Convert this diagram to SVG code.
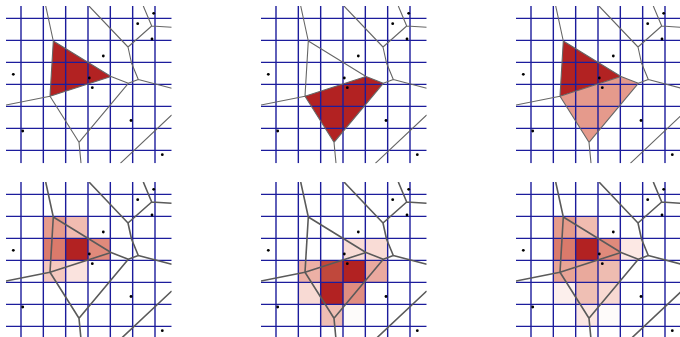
<svg xmlns="http://www.w3.org/2000/svg" xmlns:xlink="http://www.w3.org/1999/xlink" width="680" height="337" viewBox="0 0 680 337">
<style>
.grid line{stroke:#1c1c9c;stroke-width:1.4}
.vor{fill:none;stroke-linejoin:round}
.pt{fill:#000}
.red{fill:#b22222}
.top{stroke:#666;stroke-width:1.1}
.bot{stroke:#5a5a5a;stroke-width:1.6}
</style>
<defs>
<clipPath id="clip"><rect x="6" y="6" width="165.7" height="157.3"/></clipPath>
<g id="grid" class="grid">
<line x1="21" y1="6" x2="21" y2="163.3"/>
<line x1="43.33" y1="6" x2="43.33" y2="163.3"/>
<line x1="65.67" y1="6" x2="65.67" y2="163.3"/>
<line x1="88" y1="6" x2="88" y2="163.3"/>
<line x1="110.33" y1="6" x2="110.33" y2="163.3"/>
<line x1="132.67" y1="6" x2="132.67" y2="163.3"/>
<line x1="155" y1="6" x2="155" y2="163.3"/>
<line x1="6" y1="18.33" x2="171.7" y2="18.33"/>
<line x1="6" y1="40.33" x2="171.7" y2="40.33"/>
<line x1="6" y1="62.33" x2="171.7" y2="62.33"/>
<line x1="6" y1="84.33" x2="171.7" y2="84.33"/>
<line x1="6" y1="106.33" x2="171.7" y2="106.33"/>
<line x1="6" y1="128.33" x2="171.7" y2="128.33"/>
<line x1="6" y1="150.33" x2="171.7" y2="150.33"/>
</g>
<path id="vor" class="vor" d="M45.7,6 L53.3,41 L50,96.3 L6,105 M53.3,41 L111,76.5 L50,96.3 M111,76.5 L128.3,83.3 L138.3,79.5 L171.7,88.3 M138.3,79.5 L131.5,63 L128,47 L89,6 M128,47 L151.7,26 L143.3,6 M151.7,26 L171.7,27.3 M50,96.3 L79,142.3 L81,163.3 M79,142.3 L128.3,83.3 M120.3,163.3 L171.7,115"/>
<g id="pts" class="pt">
<circle cx="13.3" cy="74.3" r="1.4"/>
<circle cx="22.7" cy="131" r="1.4"/>
<circle cx="103.3" cy="56" r="1.4"/>
<circle cx="89.3" cy="78" r="1.4"/>
<circle cx="92.3" cy="87.7" r="1.4"/>
<circle cx="137.7" cy="23.7" r="1.4"/>
<circle cx="153.7" cy="13.3" r="1.4"/>
<circle cx="152" cy="39" r="1.4"/>
<circle cx="131" cy="120.5" r="1.4"/>
<circle cx="162.3" cy="154.7" r="1.4"/>
</g>
<g id="overlayTop">
<use xlink:href="#grid"/>
<use xlink:href="#vor" class="top"/>
<use xlink:href="#pts"/>
</g>
<g id="overlayBot">
<use xlink:href="#grid"/>
<use xlink:href="#vor" class="bot"/>
<use xlink:href="#pts"/>
</g>
</defs>

<g id="panel1" clip-path="url(#clip)">
<polygon class="red" points="53.3,41 111,76.5 50,96.3"/>
<use xlink:href="#overlayTop"/>
</g>

<g id="panel2" transform="translate(255,0)">
<g clip-path="url(#clip)">
<polygon class="red" points="50,96.3 111,76.5 128.3,83.3 79,142.3"/>
<use xlink:href="#overlayTop"/>
</g>
</g>

<g id="panel3" transform="translate(510,0)">
<g clip-path="url(#clip)">
<polygon class="red" points="53.3,41 111,76.5 50,96.3"/>
<polygon fill="#e59a8c" points="50,96.3 111,76.5 128.3,83.3 79,142.3"/>
<use xlink:href="#overlayTop"/>
</g>
</g>

<g id="panel4" transform="translate(0,176)">
<g clip-path="url(#clip)">
<rect x="43.33" y="40.33" width="22.34" height="22" fill="#e69b8c"/>
<rect x="65.67" y="40.33" width="22.33" height="22" fill="#f1bcb1"/>
<rect x="43.33" y="62.33" width="22.34" height="22" fill="#db7a6b"/>
<rect x="65.67" y="62.33" width="22.33" height="22" fill="#b22222"/>
<rect x="88" y="62.33" width="22.33" height="22" fill="#e08a7b"/>
<rect x="43.33" y="84.33" width="22.34" height="22" fill="#f4c8bf"/>
<rect x="65.67" y="84.33" width="22.33" height="22" fill="#fae3de"/>
<use xlink:href="#overlayBot"/>
</g>
</g>

<g id="panel5" transform="translate(255,176)">
<g clip-path="url(#clip)">
<rect x="88" y="62.33" width="22.33" height="22" fill="#f9dcd6"/>
<rect x="110.33" y="62.33" width="22.34" height="22" fill="#f9dcd6"/>
<rect x="43.33" y="84.33" width="22.34" height="22" fill="#ecb0a5"/>
<rect x="65.67" y="84.33" width="22.33" height="22" fill="#c0483c"/>
<rect x="88" y="84.33" width="22.33" height="22" fill="#b22222"/>
<rect x="110.33" y="84.33" width="22.34" height="22" fill="#eaa99f"/>
<rect x="43.33" y="106.33" width="22.34" height="22" fill="#f8dad4"/>
<rect x="65.67" y="106.33" width="22.33" height="22" fill="#b22222"/>
<rect x="88" y="106.33" width="22.33" height="22" fill="#e08d80"/>
<rect x="65.67" y="128.33" width="22.33" height="22" fill="#efbdb3"/>
<rect x="88" y="128.33" width="22.33" height="22" fill="#fdfbfa"/>
<use xlink:href="#overlayBot"/>
</g>
</g>

<g id="panel6" transform="translate(510,176)">
<g clip-path="url(#clip)">
<rect x="43.33" y="40.33" width="22.34" height="22" fill="#e59b8b"/>
<rect x="65.67" y="40.33" width="22.33" height="22" fill="#f0bcb0"/>
<rect x="43.33" y="62.33" width="22.34" height="22" fill="#da7a6b"/>
<rect x="65.67" y="62.33" width="22.33" height="22" fill="#b22222"/>
<rect x="88" y="62.33" width="22.33" height="22" fill="#df8a7b"/>
<rect x="110.33" y="62.33" width="22.34" height="22" fill="#fce8e4"/>
<rect x="43.33" y="84.33" width="22.34" height="22" fill="#e8a496"/>
<rect x="65.67" y="84.33" width="22.33" height="22" fill="#e9a99c"/>
<rect x="88" y="84.33" width="22.33" height="22" fill="#eebcb1"/>
<rect x="43.33" y="106.33" width="22.34" height="22" fill="#fcefec"/>
<rect x="65.67" y="106.33" width="22.33" height="22" fill="#efbfb4"/>
<rect x="88" y="106.33" width="22.33" height="22" fill="#f8d9d2"/>
<rect x="65.67" y="128.33" width="22.33" height="22" fill="#fbe7e3"/>
<rect x="88" y="128.33" width="22.33" height="22" fill="#fefbfa"/>
<use xlink:href="#overlayBot"/>
</g>
</g>
</svg>
